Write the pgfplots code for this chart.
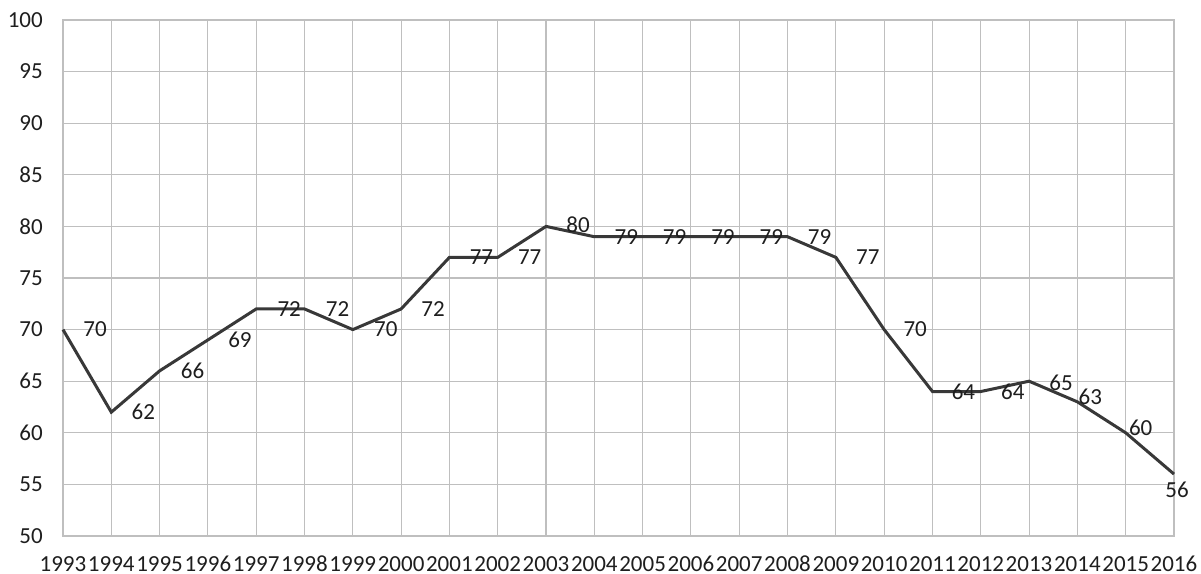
\documentclass[border=0pt]{standalone}
\usepackage{pgfplots}
\pgfplotsset{compat=1.18}
\usepackage{pgfplotstable}
\usepackage{fontspec}
\setmainfont{Carlito}

\definecolor{gridgray}{HTML}{BFBFBF}
\definecolor{linegray}{HTML}{383838}
\definecolor{txt}{HTML}{1E1E1E}

% year, value, label offset (bp)
\pgfplotstableread{
x    y  dx  dy
1993 70 32  0
1994 62 32  0
1995 66 33  0
1996 69 32  0
1997 72 33  0
1998 72 33  0
1999 70 33  0
2000 72 32  0
2001 77 32  0
2002 77 32  0
2003 80 32  2
2004 79 32  0
2005 79 32  0
2006 79 32  0
2007 79 32  0
2008 79 32  0
2009 77 32  0
2010 70 31  0
2011 64 31  0
2012 64 32  0
2013 65 32  -2
2014 63 13  5
2015 60 15  5
2016 56 3  -16
}\data

\begin{document}
\fontsize{23bp}{27bp}\selectfont
\begin{tikzpicture}
  \begin{axis}[
    name=ax,
    scale only axis,
    width=1111bp, height=516bp,
    xmin=1993, xmax=2016,
    ymin=50, ymax=100,
    xtick distance=1, ytick distance=5,
    grid=major,
    grid style={gridgray, line width=1.1bp},
    axis line style={gridgray, line width=1.1bp},
    major tick length=0pt,
    tick style={draw=none},
    /pgf/number format/assume math mode=true,
    /pgf/number format/1000 sep={},
    xticklabel style={anchor=north, inner sep=0pt, yshift=-20bp, text=txt},
    yticklabel style={anchor=east, inner sep=0pt, xshift=-20bp, text=txt},
    clip=false,
  ]
  \addplot[linegray, line width=3bp, mark=none,
    visualization depends on={\thisrow{dx}\as\dx},
    visualization depends on={\thisrow{dy}\as\dy},
    nodes near coords,
    every node near coord/.append style={anchor=center, inner sep=0pt,
      xshift=\dx bp, yshift=\dy bp, text=txt},
  ] table[x=x, y=y] {\data};
  \end{axis}
  \path (ax.south west) ++(-63bp,-38bp) rectangle ++(1201bp,574bp);
\end{tikzpicture}
\end{document}
